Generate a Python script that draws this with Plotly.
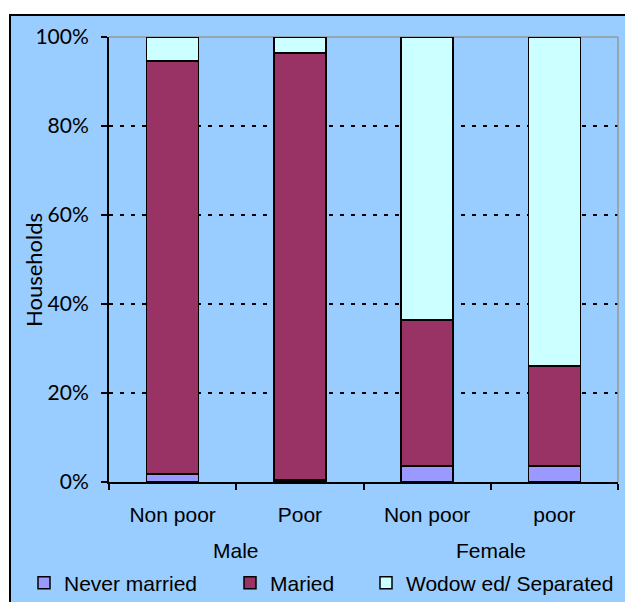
import plotly.graph_objects as go

# Household marital status by sex of head and poverty status (shares, %)
groups = ["Male", "Male", "Female", "Female"]
subgroups = ["Non poor", "Poor", "Non poor", "poor"]
never_married = [1.8, 0.5, 3.6, 3.6]
married = [92.8, 95.9, 32.8, 22.5]
widowed_separated = [5.4, 3.6, 63.6, 73.9]
y_ticks = [0, 20, 40, 60, 80, 100]
y_tick_labels = ["0%", "20%", "40%", "60%", "80%", "100%"]

series = [
    ("Never married", never_married, "#9999FF", "legend"),
    ("Maried", married, "#993366", "legend2"),
    ("Wodow ed/ Separated", widowed_separated, "#CCFFFF", "legend3"),
]

W, H = 625, 602
ML, MR, MT, MB = 109, 7, 37, 120
PW, PH = W - ML - MR, H - MT - MB


def px_x(p):
    return (p - ML) / PW


def px_y(p):
    return (H - MB - p) / PH


xs = list(range(len(subgroups)))

fig = go.Figure()
for name, vals, color, leg in series:
    fig.add_trace(go.Bar(
        x=xs, y=vals, name=name, width=0.41,
        marker=dict(color=color, line=dict(color="black", width=1.5)),
        legend=leg,
    ))

# group labels centred under their pair of bars
annotations = []
seen = []
for g in groups:
    if g not in seen:
        seen.append(g)
for g in seen:
    idx = [i for i, gg in enumerate(groups) if gg == g]
    annotations.append(dict(
        x=sum(idx) / len(idx), y=px_y(550), xref="x", yref="paper",
        text=g, showarrow=False, yanchor="middle",
        font=dict(family="Liberation Sans", size=21, color="black"),
    ))

annotations.append(dict(
    x=px_x(33), y=px_y(270), xref="paper", yref="paper", text="Households",
    textangle=-90, showarrow=False, xanchor="center", yanchor="middle",
    font=dict(family="Lato", size=22, color="black"),
))

shapes = [
    # chart area background with border
    dict(type="rect", xref="paper", yref="paper",
         x0=px_x(10), x1=px_x(660), y0=px_y(640), y1=px_y(15),
         fillcolor="#99CCFF", line=dict(color="black", width=2), layer="below"),
    # plot area frame on the top and right
    dict(type="line", xref="paper", yref="paper", x0=0, x1=1, y0=1, y1=1,
         line=dict(color="#999999", width=1.5), layer="below"),
    dict(type="line", xref="paper", yref="paper", x0=1, x1=1, y0=0, y1=1,
         line=dict(color="#999999", width=1.5), layer="above"),
]

legend_common = dict(
    orientation="h", bgcolor="rgba(0,0,0,0)", yanchor="middle",
    y=px_y(583), xanchor="left",
    font=dict(family="Liberation Sans", size=21, color="black"),
)

fig.update_layout(
    width=W, height=H,
    margin=dict(l=ML, r=MR, t=MT, b=MB, autoexpand=False),
    paper_bgcolor="white", plot_bgcolor="white",
    barmode="stack", bargap=0.59,
    showlegend=True,
    legend=dict(legend_common, x=px_x(24)),
    legend2=dict(legend_common, x=px_x(230)),
    legend3=dict(legend_common, x=px_x(366)),
    xaxis=dict(
        range=[-0.5, len(subgroups) - 0.5], automargin=False,
        tickmode="array", tickvals=xs, ticktext=subgroups,
        ticks="", showgrid=False, zeroline=False,
        showline=True, linecolor="black", linewidth=2,
        tickfont=dict(family="Liberation Sans", size=21, color="black"),
        ticklabelstandoff=13,
        minor=dict(tickmode="array",
                   tickvals=[i - 0.5 for i in range(len(subgroups) + 1)],
                   ticks="outside", ticklen=6, tickcolor="black", tickwidth=2,
                   showgrid=False),
    ),
    yaxis=dict(
        range=[0, 100], tickmode="array", tickvals=y_ticks, automargin=False,
        ticktext=y_tick_labels,
        ticks="outside", ticklen=6, tickcolor="black",
        tickwidth=2, showline=True, linecolor="black", linewidth=2,
        showgrid=True, gridcolor="black", gridwidth=2, griddash="4px,7px",
        zeroline=False,
        tickfont=dict(family="Lato", size=21, color="black"),
        ticklabelstandoff=8,
    ),
    annotations=annotations,
    shapes=shapes,
)

fig.write_html("out.html")
